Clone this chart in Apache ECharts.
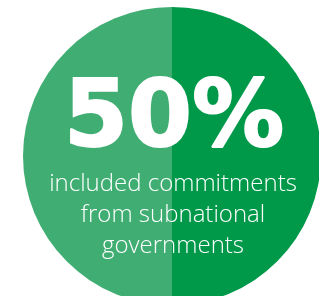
<!DOCTYPE html>
<html>
<head>
<meta charset="utf-8">
<script src="https://cdn.jsdelivr.net/npm/echarts@6/dist/echarts.min.js"></script>
<style>
	html, body { margin: 0; padding: 0; background: #fff; }
	#chart { width: 319px; height: 296px; }
</style>
</head>
<body>
<div id="chart"></div>
<script>
	// slices, drawn clockwise from the top
	const slice_names = ['included', 'not included'];
	const slice_values = [50, 50];
	const slice_colors = ['#00994a', '#40ae73'];

	const big_label = '50%';
	const sub_lines = ['included commitments', 'from subnational', 'governments'];

	let chart = echarts.init(document.getElementById('chart'));
	let option = {
		animation: false,
		series: [{
			type: 'pie',
			silent: true,
			center: [172, 156],
			radius: 149,
			startAngle: 90,
			label: { show: false },
			labelLine: { show: false },
			itemStyle: { borderWidth: 0 },
			data: slice_names.map((n, i) => ({
				name: n,
				value: slice_values[i],
				itemStyle: { color: slice_colors[i] }
			}))
		}],
		graphic: {
			elements: [
				{
					type: 'text',
					z: 100,
					x: 174, y: 122,
					style: {
						text: big_label,
						fill: '#fff',
						stroke: '#fff',
						lineWidth: 2,
						fontSize: 92,
						fontWeight: 'bold',
						fontFamily: 'DejaVu Sans',
						textAlign: 'center',
						textVerticalAlign: 'middle'
					}
				},
				{
					type: 'text',
					z: 100,
					x: 173, y: 215,
					style: {
						text: sub_lines.join('\n'),
						fill: '#fff',
						fontSize: 24,
						fontWeight: 300,
						fontFamily: 'Open Sans',
						lineHeight: 31,
						textAlign: 'center',
						textVerticalAlign: 'middle'
					}
				}
			]
		}
	};
	chart.setOption(option);
</script>
</body>
</html>
